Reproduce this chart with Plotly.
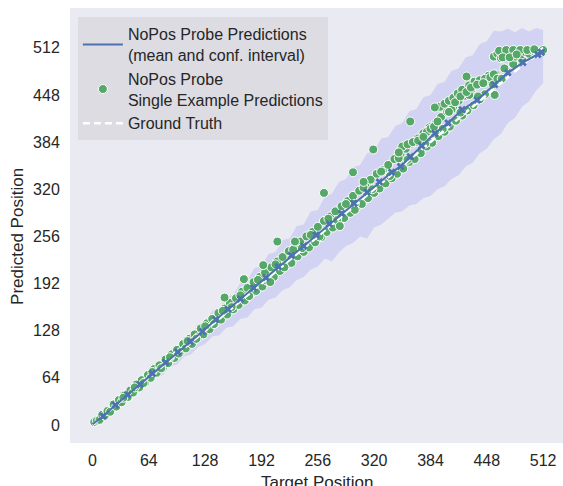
import plotly.graph_objects as go

# ---------------- data ----------------
band_x = [0, 8, 16, 24, 32, 40, 48, 56, 64, 72, 80, 88, 96, 104, 112, 120, 128, 136, 144, 152,
          160, 168, 176, 184, 192, 200, 208, 216, 224, 232, 240, 248, 256, 264, 272, 280, 288,
          296, 304, 312, 320, 328, 336, 344, 352, 360, 368, 376, 384, 392, 400, 408, 416, 424,
          432, 440, 448, 456, 464, 472, 480, 488, 496, 504, 512]
band_upper = [3, 13, 20, 31, 37, 48, 53, 65, 70, 83, 88, 102, 106, 119, 123, 137, 140, 155, 158, 173,
              177, 193, 197, 213, 216, 232, 235, 251, 253, 270, 272, 290, 292, 310, 314, 330, 334,
              350, 353, 369, 372, 389, 391, 406, 410, 426, 429, 445, 448, 463, 466, 481, 484, 499,
              502, 517, 521, 535, 534, 538, 533, 539, 534, 539, 536]
band_lower = [-3, 5, 11, 20, 25, 36, 40, 51, 54, 65, 68, 79, 82, 93, 96, 106, 110, 120, 122, 132,
              134, 144, 146, 157, 159, 170, 173, 183, 187, 197, 201, 211, 215, 226, 222, 234, 243,
              247, 256, 253, 268, 272, 280, 288, 290, 298, 300, 308, 311, 320, 324, 334, 339, 351,
              356, 369, 375, 388, 395, 410, 417, 432, 439, 454, 464]

mean_x = [0, 12, 26, 40, 54, 68, 83, 97, 111, 125, 140, 154, 168, 183, 197, 211, 226, 240, 254,
          269, 283, 297, 312, 326, 340, 350, 361, 374, 389, 404, 420, 437, 457, 472, 489, 506, 510]
mean_y = [1, 12, 27, 41, 55, 70, 85, 99, 113, 127, 143, 157, 171, 186, 200, 215, 230, 243, 258,
          273, 287, 301, 316, 330, 343, 351, 364, 379, 396, 410, 428, 441, 462, 478, 492, 503, 506]

pts_x = [2, 5, 8, 11, 14, 17, 20, 24, 27, 30, 33, 36, 40, 43, 46, 50, 53, 56, 60, 63, 66, 70, 73,
         76, 80, 83, 86, 90, 93, 96, 100, 103, 106, 110, 113, 116, 120, 123, 126, 130, 133, 136,
         140, 143, 146, 150, 153, 156, 160, 163, 166, 170, 173, 176, 180, 183, 186, 190, 193, 196,
         200, 203, 206, 210, 213, 216, 220, 223, 226, 230, 233, 236, 240, 243, 246, 250, 253, 256,
         260, 263, 266, 270, 273, 276, 280, 283, 286, 290, 293, 296, 300, 303, 306, 310, 313, 316,
         320, 323, 326, 330, 333, 336, 340, 343, 346, 350, 353, 356, 360, 363, 366, 370, 373, 376,
         380, 383, 386, 390, 393, 396, 400, 403, 406, 410, 413, 416, 420, 423, 426, 430, 433, 436,
         440, 443, 446, 450,
         35, 48, 58, 68, 78, 88, 98, 108, 118, 128, 138, 148, 158, 168, 178, 188, 198, 208, 218,
         228, 238, 248, 258, 268, 278, 288, 298, 308, 318, 328, 338, 348, 358, 368, 378, 388, 398,
         408, 418, 428, 438, 448, 458, 468, 478, 488, 498,
         395, 400, 405, 410, 415, 420, 428, 434, 440, 446, 452, 456, 405, 412, 418, 425, 430, 437, 444,
         380, 384, 388, 392, 352, 358, 364, 370,
         456, 460, 464, 468, 472, 476, 480, 484, 488, 492, 496, 500, 504, 508, 512, 462, 470, 478,
         486, 494, 502, 466, 474, 482, 455, 460, 465,
         150, 172, 194, 202, 210, 230, 263, 281, 298, 296, 308, 319, 348, 361, 376, 389, 425, 457]
pts_y = [4, 6, 7, 14, 13, 19, 18, 28, 25, 34, 31, 40, 38, 47, 44, 55, 51, 61, 58, 68, 64, 76, 71,
         81, 78, 89, 84, 96, 91, 102, 99, 110, 104, 117, 110, 123, 119, 131, 123, 138, 130, 144,
         139, 152, 143, 158, 150, 166, 157, 172, 163, 181, 169, 186, 178, 194, 182, 201, 188, 207,
         198, 214, 201, 222, 209, 228, 216, 236, 220, 242, 229, 249, 235, 256, 241, 262, 248, 269,
         255, 277, 262, 283, 268, 290, 275, 297, 281, 304, 288, 311, 296, 318, 300, 326, 308, 333,
         315, 341, 321, 346, 328, 353, 335, 361, 341, 368, 348, 375, 357, 382, 361, 389, 369, 396,
         378, 404, 383, 410, 392, 418, 398, 425, 405, 432, 413, 440, 420, 447, 427, 455, 434, 461,
         442, 468, 449, 474,
         37, 51, 57, 72, 77, 92, 97, 114, 117, 134, 137, 155, 160, 176, 175, 197, 196, 218, 214,
         238, 240, 258, 256, 280, 278, 300, 300, 322, 320, 344, 338, 362, 360, 384, 382, 404, 402,
         428, 424, 448, 446, 466, 476, 484, 490, 496, 502,
         432, 436, 440, 444, 450, 455, 461, 466, 468, 470, 472, 476, 425, 438, 446, 452, 458, 462, 464,
         398, 402, 405, 412, 378, 381, 384, 386,
         500, 504, 498, 506, 502, 505, 500, 507, 503, 506, 504, 508, 505, 507, 509, 508, 509, 509,
         509, 509, 510, 499, 499, 503, 462, 470, 470,
         173, 198, 217, 194, 249, 249, 315, 270, 292, 343, 330, 374, 370, 412, 391, 431, 473, 448]

truth_x = [0, 512]
truth_y = [0, 512]

x_ticks = [0, 64, 128, 192, 256, 320, 384, 448, 512]
y_ticks = [0, 64, 128, 192, 256, 320, 384, 448, 512]

BLUE = "#4C72B0"
GREEN = "#55A868"
TXT = "#262626"

fig = go.Figure()

# confidence band
fig.add_trace(go.Scatter(x=band_x, y=band_lower, mode="lines", line=dict(width=0),
                         showlegend=False, hoverinfo="skip"))
fig.add_trace(go.Scatter(x=band_x, y=band_upper, mode="lines", line=dict(width=0),
                         fill="tonexty", fillcolor="rgba(0,0,255,0.1)",
                         showlegend=False, hoverinfo="skip"))

# single example predictions
fig.add_trace(go.Scatter(x=pts_x, y=pts_y, mode="markers",
                         marker=dict(color=GREEN, size=9, line=dict(color="white", width=1)),
                         name="NoPos Probe<br>Single Example Predictions", legendrank=2))

# ground truth
fig.add_trace(go.Scatter(x=truth_x, y=truth_y, mode="lines",
                         line=dict(color="white", width=2.5, dash="7px,4px"),
                         name="Ground Truth", legendrank=3))

# mean line
fig.add_trace(go.Scatter(x=mean_x, y=mean_y, mode="lines",
                         line=dict(color=BLUE, width=2),
                         name="NoPos Probe Predictions<br>(mean and conf. interval)", legendrank=1))
fig.add_trace(go.Scatter(x=mean_x[1:], y=mean_y[1:], mode="markers",
                         marker=dict(color=BLUE, size=7, symbol="x"),
                         showlegend=False, hoverinfo="skip"))

fig.update_layout(
    width=563, height=486,
    margin=dict(l=70, r=0, t=8, b=43, autoexpand=False),
    plot_bgcolor="#EAEAF2", paper_bgcolor="white",
    font=dict(family="Liberation Sans, Arial, sans-serif", size=16, color=TXT),
    legend=dict(x=0.016, y=0.979, xanchor="left", yanchor="top", traceorder="normal",
                bgcolor="rgb(220,220,226)", borderwidth=0,
                font=dict(size=16, color=TXT), itemwidth=40),
    showlegend=True,
    annotations=[
        dict(text="Target Position", xref="paper", yref="paper", x=0.5, y=-0.09,
             xanchor="center", yanchor="middle", showarrow=False,
             font=dict(size=17, color=TXT)),
        dict(text="Predicted Position", xref="paper", yref="paper", x=-0.1055, y=0.476,
             xanchor="center", yanchor="middle", showarrow=False, textangle=-90,
             font=dict(size=17, color=TXT)),
    ],
)
fig.update_xaxes(range=[-25.6, 534.6], tickvals=x_ticks, ticktext=[str(v) for v in x_ticks],
                 showgrid=False, zeroline=False, showline=False, automargin=False,
                 ticks="outside", ticklen=3, tickcolor="rgba(0,0,0,0)")
fig.update_yaxes(range=[-24.4, 566], tickvals=y_ticks, ticktext=[str(v) for v in y_ticks],
                 showgrid=False, zeroline=False, showline=False, automargin=False,
                 ticks="outside", ticklen=6, tickcolor="rgba(0,0,0,0)")

fig.write_html(
    "out.html",
    config={"displayModeBar": False},
    post_script="document.body.style.margin='0';document.body.style.padding='0';"
                "document.body.style.overflow='hidden';",
)
